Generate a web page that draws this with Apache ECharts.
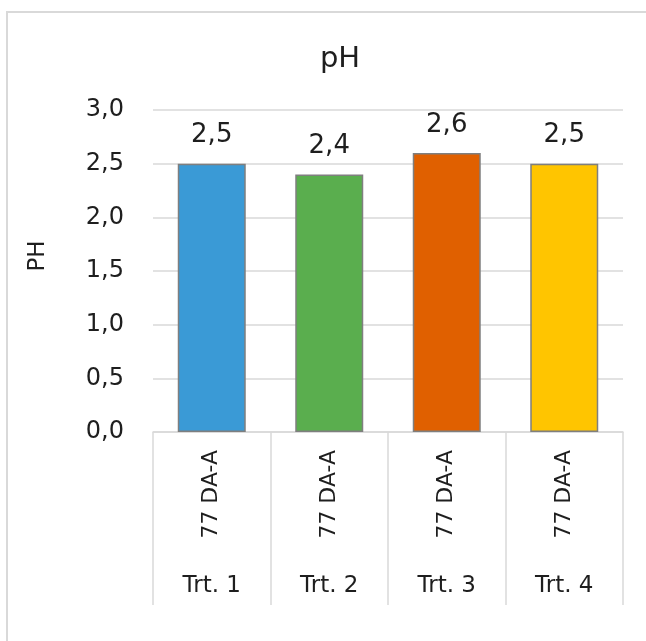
<!DOCTYPE html>
<html>
<head>
<meta charset="utf-8">
<script src="https://cdn.jsdelivr.net/npm/echarts@6/dist/echarts.min.js"></script>
<style>
html,body{margin:0;padding:0;background:#fff;}
#chart{width:646px;height:641px;}
</style>
</head>
<body>
<div id="chart"></div>
<script>
const categories = ['77 DA-A', '77 DA-A', '77 DA-A', '77 DA-A'];
const groups = ['Trt. 1', 'Trt. 2', 'Trt. 3', 'Trt. 4'];
const values = [2.5, 2.4, 2.6, 2.5];
const barColors = ['#3A9AD6', '#5AAE4E', '#E06000', '#FFC500'];
const yTicks = [0, 0.5, 1.0, 1.5, 2.0, 2.5, 3.0];
const yName = 'PH';
const titleText = 'pH';

const FONT = '"DejaVu Sans", Verdana, sans-serif';
const TXT = '#1e1e1e';
const comma = v => Number(v).toFixed(1).replace('.', ',');

const chart = echarts.init(document.getElementById('chart'), null, {renderer: 'canvas'});
chart.setOption({
  backgroundColor: '#fff',
  animation: false,
  title: {
    text: titleText,
    left: 335,
    top: 40,
    textAlign: 'center',
    textStyle: {fontFamily: FONT, fontSize: 29, fontWeight: 'normal', color: TXT}
  },
  graphic: [{
    type: 'rect',
    shape: {x: 7, y: 12, width: 800, height: 800},
    style: {fill: 'none', stroke: '#d9d9d9', lineWidth: 2},
    silent: true
  }, {
    type: 'text',
    x: 38,
    y: 256,
    rotation: Math.PI / 2,
    style: {text: yName, font: '23px "DejaVu Sans", Verdana, sans-serif', fill: TXT, align: 'center', verticalAlign: 'middle'},
    silent: true
  }],
  grid: {left: 153, right: 23, top: 110, bottom: 209, containLabel: false},
  xAxis: [{
    type: 'category',
    data: categories,
    position: 'bottom',
    axisLine: {show: true, lineStyle: {color: '#d9d9d9', width: 1.5}},
    axisTick: {show: true, length: 173, interval: 0, alignWithLabel: false, lineStyle: {color: '#d9d9d9', width: 1.5}},
    axisLabel: {interval: 0, rotate: 90, margin: 18, fontFamily: FONT, fontSize: 22, color: TXT},
    splitLine: {show: false}
  }, {
    type: 'category',
    data: groups,
    position: 'bottom',
    axisLine: {show: false},
    axisTick: {show: false},
    axisLabel: {interval: 0, margin: 143, fontFamily: FONT, fontSize: 23, color: TXT},
    splitLine: {show: false}
  }],
  yAxis: {
    type: 'value',
    min: yTicks[0],
    max: yTicks[yTicks.length - 1],
    interval: 0.5,
    axisLine: {show: false},
    axisTick: {show: false},
    axisLabel: {margin: 29, fontFamily: FONT, fontSize: 24, color: TXT, formatter: v => comma(v)},
    splitLine: {show: true, lineStyle: {color: '#d9d9d9', width: 1.5}}
  },
  series: [{
    type: 'bar',
    xAxisIndex: 0,
    barWidth: 68,
    data: values.map((v, i) => ({value: v, itemStyle: {color: barColors[i]}})),
    itemStyle: {borderColor: '#7f7f7f', borderWidth: 1.5},
    label: {
      show: true,
      position: 'top',
      distance: 15,
      fontFamily: FONT,
      fontSize: 26,
      color: TXT,
      formatter: p => comma(p.value)
    }
  }]
});
</script>
</body>
</html>
